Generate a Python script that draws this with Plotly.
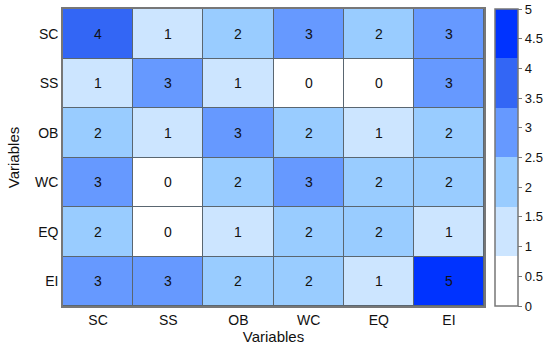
import plotly.graph_objects as go

variables = ["SC", "SS", "OB", "WC", "EQ", "EI"]
values = [
    [4, 1, 2, 3, 2, 3],
    [1, 3, 1, 0, 0, 3],
    [2, 1, 3, 2, 1, 2],
    [3, 0, 2, 3, 2, 2],
    [2, 0, 1, 2, 2, 1],
    [3, 3, 2, 2, 1, 5],
]
colorbar_ticks = [0, 0.5, 1, 1.5, 2, 2.5, 3, 3.5, 4, 4.5, 5]

bins = ["#ffffff", "#cce5ff", "#99ccff", "#6699ff", "#3366f5", "#0033ff"]
n = len(bins)
colorscale = []
for i, c in enumerate(bins):
    colorscale.append([i / n, c])
    colorscale.append([(i + 1) / n, c])

FONT = "Liberation Sans, Arial, sans-serif"

fig = go.Figure(go.Heatmap(
    z=values, x=variables, y=variables,
    zmin=0, zmax=5, colorscale=colorscale,
    xgap=1, ygap=1,
    text=[[str(v) for v in row] for row in values],
    texttemplate="%{text}",
    textfont=dict(size=14, color="#111111", family=FONT),
    hoverinfo="skip",
    colorbar=dict(
        x=1.026, xanchor="left", xpad=0, ypad=0,
        y=0.5, yanchor="middle", len=1, lenmode="fraction",
        thickness=23, outlinecolor="#777777", outlinewidth=1.5,
        tickvals=colorbar_ticks, ticktext=[f"{t:g}" for t in colorbar_ticks],
        ticks="outside", ticklen=4, tickcolor="#777777",
        tickfont=dict(size=13, color="#111111", family=FONT),
    ),
))

fig.update_layout(
    width=550, height=354,
    margin=dict(l=63, r=66, t=9, b=48, autoexpand=False),
    paper_bgcolor="white", plot_bgcolor="#5a6670",
    font=dict(family=FONT, size=14, color="#111111"),
    xaxis=dict(title=dict(text="Variables", standoff=5, font=dict(size=15)),
               automargin=False,
               showgrid=False, zeroline=False, ticks="", showline=True, linecolor="#777777",
               linewidth=1.5, mirror=True, tickfont=dict(size=14)),
    yaxis=dict(title=dict(text="Variables", standoff=12, font=dict(size=15)),
               automargin=False,
               autorange="reversed", showgrid=False, zeroline=False, ticks="",
               showline=True, linecolor="#777777", linewidth=1.5, mirror=True,
               tickfont=dict(size=14)),
)

fig.write_html("out.html", config={"displayModeBar": False},
               post_script="document.body.style.margin='0';")
